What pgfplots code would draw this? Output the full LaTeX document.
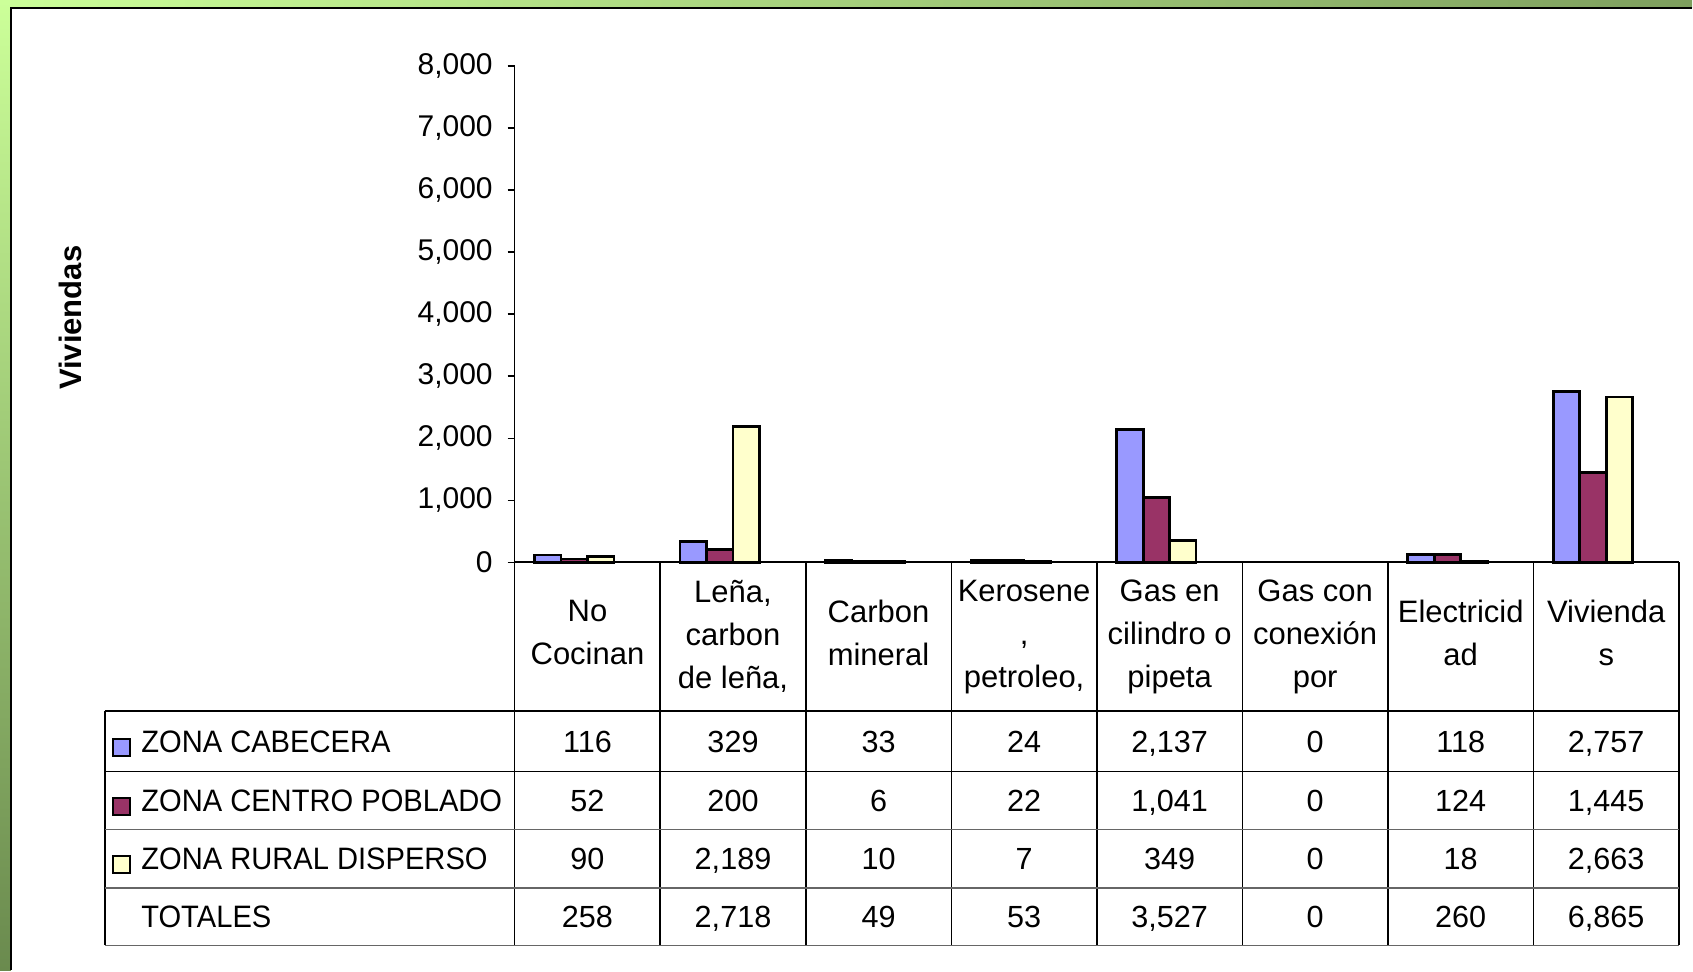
\documentclass[border=0pt]{standalone}
\usepackage{pgfplots}
\pgfplotsset{compat=1.18}
\usepackage{pgfplotstable}
\usepackage{fontspec}
\setmainfont{Liberation Sans}
\newfontfamily\narrowfont[FakeStretch=0.94]{Liberation Sans}

\definecolor{cabecera}{HTML}{9999FF}
\definecolor{centro}{HTML}{993366}
\definecolor{rural}{HTML}{FFFFCC}
\definecolor{greenlight}{HTML}{CCFF99}
\definecolor{greenmid}{HTML}{7E9F5E}
\definecolor{greendark}{HTML}{6A8A4E}

% viviendas por combustible para cocinar
\pgfplotstableread{
x cab  cen  rur  tot
1 116  52   90   258
2 329  200  2189 2718
3 33   6    10   49
4 24   22   7    53
5 2137 1041 349  3527
6 0    0    0    0
7 118  124  18   260
8 2757 1445 2663 6865
}\datos

\newcommand{\numfont}{\fontsize{15.3}{18}\selectfont}
\newcommand{\headfont}{\fontsize{15.5}{21.5}\selectfont}
\newcommand{\labfont}{\narrowfont\fontsize{15.5}{21.5}\selectfont}

\begin{document}
\begin{tikzpicture}
% marco
\begin{scope}[x=0.5pt,y=-0.5pt]
  \fill[white] (0,0) rectangle (1693,971);
  \shade[left color=greenlight, right color=greenmid] (0,0) rectangle (1693,8);
  \shade[top color=greenlight, bottom color=greendark] (0,0) rectangle (11,971);
  \draw[black, line width=1pt] (11,971) -- (11,8.5) -- (1693,8.5);
  \node[rotate=90, font=\bfseries\fontsize{15.5}{18}\selectfont] at (70,318) {Viviendas};
\end{scope}

\begin{axis}[
    at={(257.5pt,-281.25pt)}, anchor=south west,
    scale only axis, width=582.5pt, height=248.25pt,
    xmin=0.5, xmax=8.5, ymin=0, ymax=8000,
    axis y line=left, axis x line=none,
    axis line style={-, draw=black, line width=0.6pt},
    ytick={0,1000,...,8000}, xtick=\empty,
    tick align=outside, major tick length=3.5pt,
    tick style={black, line width=0.6pt},
    yticklabel style={font=\fontsize{15}{18}\selectfont, xshift=-4pt,
        /pgf/number format/assume math mode=true,
        /pgf/number format/1000 sep={,}},
    ybar, bar width=13.24pt,
    restrict y to domain=1:10000,
    clip=false,
]
\addplot[draw=black, line width=1.4pt, fill=cabecera, bar shift=-19.86pt] table[x=x,y=cab]{\datos};
\addplot[draw=black, line width=1.4pt, fill=centro, bar shift=-6.62pt] table[x=x,y=cen]{\datos};
\addplot[draw=black, line width=1.4pt, fill=rural, bar shift=6.62pt] table[x=x,y=rur]{\datos};
\end{axis}

% tabla de datos
\begin{scope}[x=0.5pt,y=-0.5pt]
  \draw[black, line width=0.8pt] (515,562.5) -- (1680,562.5);
  \foreach \k in {0,...,8}
    \draw[black, line width=0.8pt] ({515+\k*145.625},562.5) -- ({515+\k*145.625},946);
  \draw[black, line width=0.8pt] (105,711.5) -- (105,946);
  \draw[black, line width=0.8pt] (105,711.5) -- (1680,711.5);
  \draw[black, line width=0.8pt] (105,772) -- (1680,772);
  \draw[black!60, line width=0.8pt] (105,830) -- (1680,830);
  \draw[black!60, line width=0.8pt] (105,888.6) -- (1680,888.6);
  \draw[black!60, line width=0.8pt] (105,946) -- (1680,946);

  \foreach \t/\yc [count=\k] in {{No\\Cocinan}/633,{Leña,\\carbon\\de leña,}/637,{Carbon\\mineral}/633,
      {Kerosene\\,\\petroleo,}/637,{Gas en\\cilindro o\\pipeta}/637,{Gas con\\conexión\\por}/637,
      {Electricid\\ad}/633,{Vivienda\\s}/633}
    \node[align=center, font=\headfont, inner sep=0pt] at ({515+(\k-0.5)*145.625},\yc) {\t};

  \fill[cabecera] (113,739) rectangle (130,756);
  \draw[black, line width=1pt] (113,739) rectangle (130,756);
  \fill[centro] (113,798) rectangle (130,815);
  \draw[black, line width=1pt] (113,798) rectangle (130,815);
  \fill[rural] (113,857) rectangle (130,874);
  \draw[black, line width=1pt] (113,857) rectangle (130,874);

  \node[anchor=base west, font=\labfont, inner sep=0pt] at (141,752.75) {ZONA CABECERA};
  \node[anchor=base west, font=\labfont, inner sep=0pt] at (141,812) {ZONA CENTRO POBLADO};
  \node[anchor=base west, font=\labfont, inner sep=0pt] at (141,870.3) {ZONA RURAL DISPERSO};
  \node[anchor=base west, font=\labfont, inner sep=0pt] at (141,928.3) {TOTALES};

  \foreach \v [count=\k] in {116,329,33,24,{2,137},0,118,{2,757}}
    \node[anchor=base, font=\numfont, inner sep=0pt] at ({515+(\k-0.5)*145.625},752.75) {\v};
  \foreach \v [count=\k] in {52,200,6,22,{1,041},0,124,{1,445}}
    \node[anchor=base, font=\numfont, inner sep=0pt] at ({515+(\k-0.5)*145.625},812) {\v};
  \foreach \v [count=\k] in {90,{2,189},10,7,349,0,18,{2,663}}
    \node[anchor=base, font=\numfont, inner sep=0pt] at ({515+(\k-0.5)*145.625},870.3) {\v};
  \foreach \v [count=\k] in {258,{2,718},49,53,{3,527},0,260,{6,865}}
    \node[anchor=base, font=\numfont, inner sep=0pt] at ({515+(\k-0.5)*145.625},928.3) {\v};
\end{scope}
\end{tikzpicture}
\end{document}
